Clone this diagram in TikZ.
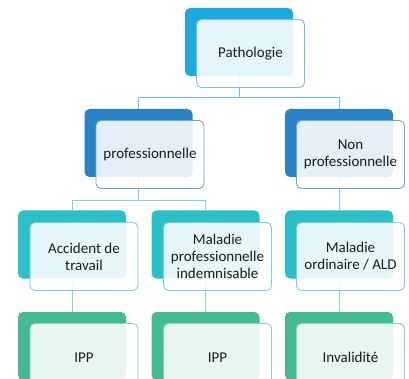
\documentclass[tikz,border=0pt]{standalone}
\usepackage{fontspec}
\setmainfont{Carlito}
\definecolor{lvA}{HTML}{1FA8E0}
\definecolor{lvAl}{HTML}{6CC3EC}
\definecolor{lvB}{HTML}{2B83C6}
\definecolor{lvBl}{HTML}{6BA5DA}
\definecolor{lvC}{HTML}{2BC0C7}
\definecolor{lvCl}{HTML}{76D4D8}
\definecolor{lvD}{HTML}{43BA95}
\definecolor{lvDl}{HTML}{86D4B8}
\definecolor{ink}{HTML}{1C1C1C}
\tikzset{
  backbox/.style={rectangle, rounded corners=5pt, minimum width=108pt, minimum height=68pt, inner sep=0pt, fill=#1, draw=none},
  frontbox/.style={rectangle, rounded corners=5pt, minimum width=108pt, minimum height=68pt, inner sep=0pt,
    fill=white, fill opacity=0.88, text opacity=1, draw=#1, line width=0.9pt, text=ink,
    align=center, font=\fontsize{15}{17}\selectfont},
  link/.style={draw=#1, line width=0.9pt}
}
\begin{document}
\begin{tikzpicture}[x=1pt,y=-1pt]
\useasboundingbox (0,0) rectangle (409,379);
\clip (0,0) rectangle (409,379);
% back plates
\node[backbox=lvA] (b1) at (239,42) {};
\node[backbox=lvB] (b2a) at (138.5,143) {};
\node[backbox=lvB] (b2b) at (339,143) {};
\node[backbox=lvC] (b3a) at (72,244.5) {};
\node[backbox=lvC] (b3b) at (205.5,244.5) {};
\node[backbox=lvC] (b3c) at (339,244.5) {};
\node[backbox=lvD] (b4a) at (72,346) {};
\node[backbox=lvD] (b4b) at (205.5,346) {};
\node[backbox=lvD] (b4c) at (339,346) {};
% connectors between the plates
\draw[link=lvAl] (b1.south) -- ++(0,21) -| (b2a.north);
\draw[link=lvAl] (b1.south) -- ++(0,21) -| (b2b.north);
\draw[link=lvCl] (b2a.south) -- ++(0,23) -| (b3a.north);
\draw[link=lvCl] (b2a.south) -- ++(0,23) -| (b3b.north);
\draw[link=lvCl] (b2b.south) -- (b3c.north);
\draw[link=lvDl] (b3a.south) -- (b4a.north);
\draw[link=lvDl] (b3b.south) -- (b4b.north);
\draw[link=lvDl] (b3c.south) -- (b4c.north);
% front cards with labels
\node[frontbox=lvAl] (n1) at (250.5,53.5) {Pathologie};
\node[frontbox=lvBl] (n2a) at (150,154.5) {professionnelle};
\node[frontbox=lvBl] (n2b) at (350.5,154.5) {Non\\professionnelle};
\node[frontbox=lvCl] (n3a) at (84,256.5) {Accident de\\travail};
\node[frontbox=lvCl] (n3b) at (217.5,256.5) {Maladie\\professionnelle\\indemnisable};
\node[frontbox=lvCl] (n3c) at (350.5,256.5) {Maladie\\ordinaire / ALD};
\node[frontbox=lvDl] (n4a) at (84,357.5) {IPP};
\node[frontbox=lvDl] (n4b) at (217.5,357.5) {IPP};
\node[frontbox=lvDl] (n4c) at (350.5,357.5) {Invalidité};
\end{tikzpicture}
\end{document}
